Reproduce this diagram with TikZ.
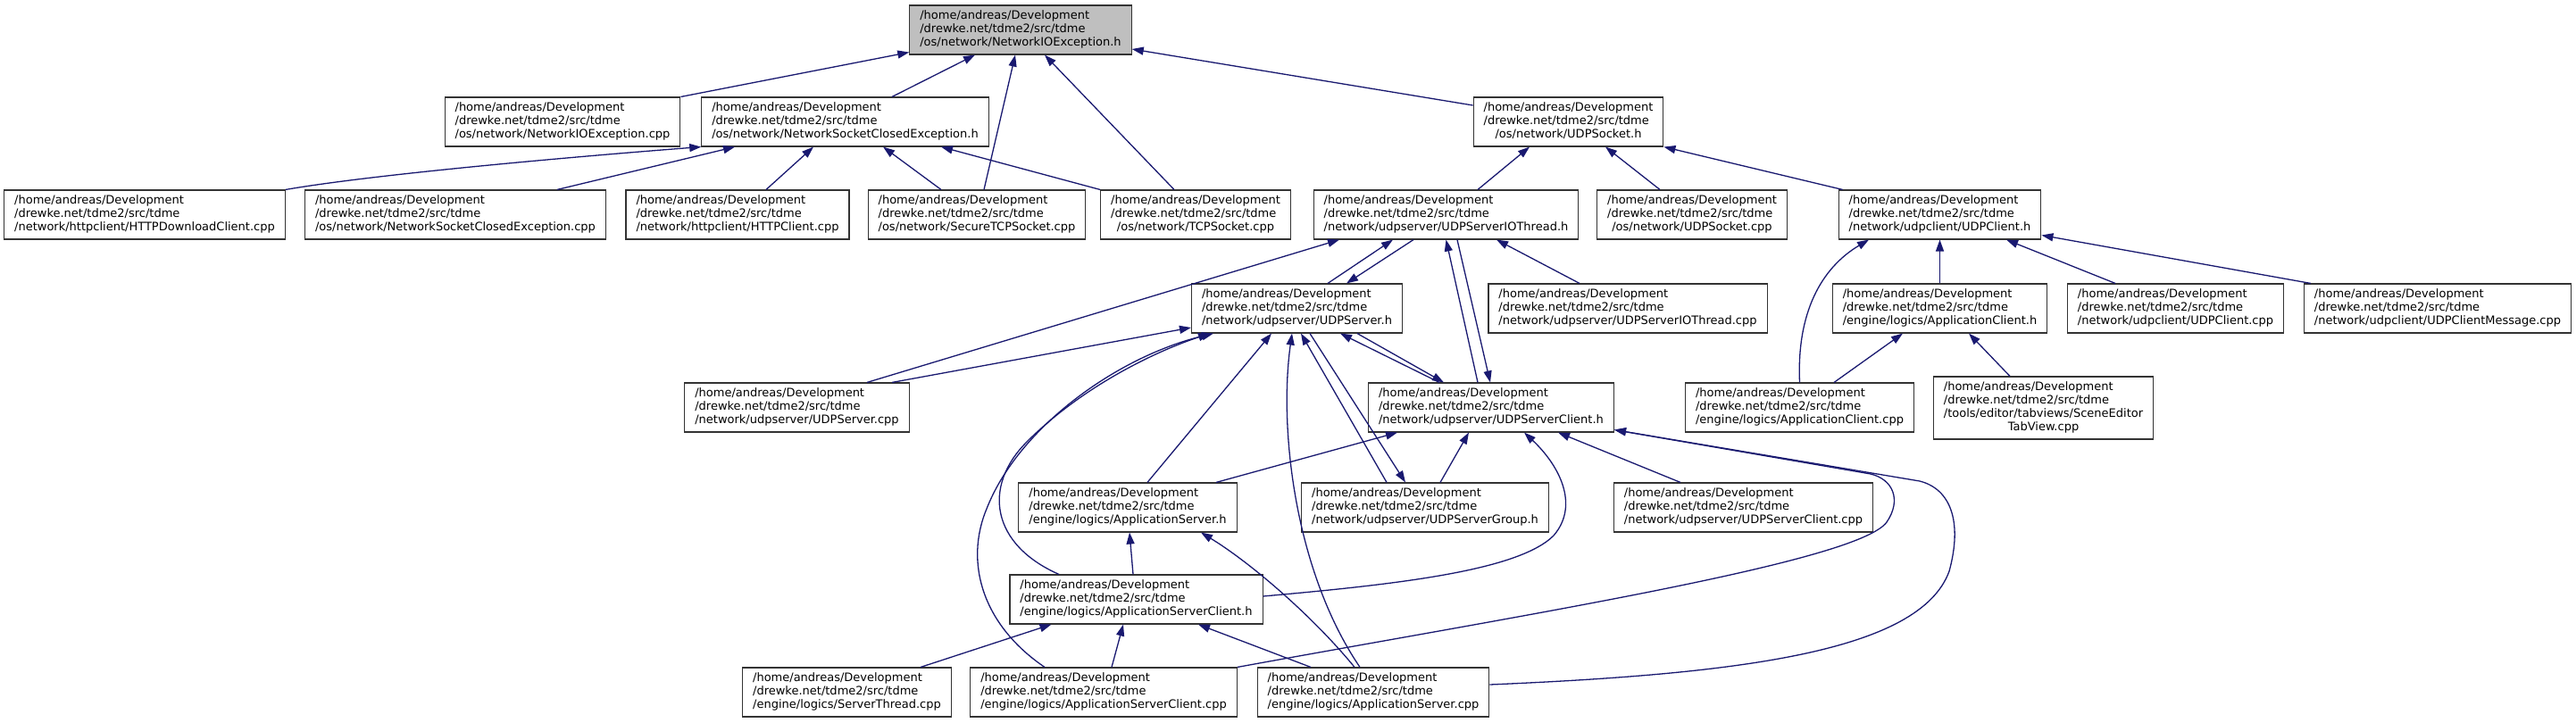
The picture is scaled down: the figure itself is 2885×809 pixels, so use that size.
\documentclass[tikz,border=0pt]{standalone}
\usepackage{fontspec}
\setmainfont{DejaVu Sans}
\usetikzlibrary{arrows.meta}
\definecolor{edgeblue}{HTML}{191970}
\definecolor{rootfill}{HTML}{BFBFBF}
\newcommand{\lbl}[1]{\begin{tabular}{@{}l@{}}/home/andreas/Development\\/drewke.net/tdme2/src/tdme\\\multicolumn{1}{@{}c@{}}{#1}\end{tabular}}
\begin{document}
\begin{tikzpicture}[x=1pt,y=-1pt,
  nd/.style={draw=black!80, line width=1.1pt, fill=white, inner xsep=11.5pt, inner ysep=5pt,
    font=\fontsize{13}{15}\selectfont},
  rootnd/.style={nd, fill=rootfill},
  edge/.style={draw=edgeblue, line width=1.3pt, -{Triangle[length=13pt,width=9pt]}}]
\fill[white] (0,0) rectangle (2885,809);
\useasboundingbox (0,0) rectangle (2885,809);
% row 1
\node[rootnd] (nioh) at (1143,33.5) {\lbl{/os/network/NetworkIOException.h}};
% row 2
\node[nd] (niocpp) at (630,136.5) {\lbl{/os/network/NetworkIOException.cpp}};
\node[nd] (nsceh) at (946.5,136.5) {\lbl{/os/network/NetworkSocketClosedException.h}};
\node[nd] (udpsh) at (1756.5,136.5) {\lbl{/os/network/UDPSocket.h}};
% row 3
\node[nd] (httpdl) at (162,240.5) {\lbl{/network/httpclient/HTTPDownloadClient.cpp}};
\node[nd] (nscecpp) at (510,240.5) {\lbl{/os/network/NetworkSocketClosedException.cpp}};
\node[nd] (httpc) at (826,240.5) {\lbl{/network/httpclient/HTTPClient.cpp}};
\node[nd] (stcp) at (1094,240.5) {\lbl{/os/network/SecureTCPSocket.cpp}};
\node[nd] (tcp) at (1339,240.5) {\lbl{/os/network/TCPSocket.cpp}};
\node[nd] (udpsiot) at (1619.5,240.5) {\lbl{/network/udpserver/UDPServerIOThread.h}};
\node[nd] (udpscpp) at (1895,240.5) {\lbl{/os/network/UDPSocket.cpp}};
\node[nd] (udpch) at (2172.5,240.5) {\lbl{/network/udpclient/UDPClient.h}};
% row 4
\node[nd] (udpsvh) at (1452.5,345.5) {\lbl{/network/udpserver/UDPServer.h}};
\node[nd] (udpsiotcpp) at (1823,345.5) {\lbl{/network/udpserver/UDPServerIOThread.cpp}};
\node[nd] (appch) at (2172.5,345.5) {\lbl{/engine/logics/ApplicationClient.h}};
\node[nd] (udpccpp) at (2436.5,345.5) {\lbl{/network/udpclient/UDPClient.cpp}};
\node[nd] (udpcmsg) at (2730,345.5) {\lbl{/network/udpclient/UDPClientMessage.cpp}};
% row 5
\node[nd] (udpsvcpp) at (892.5,456.5) {\lbl{/network/udpserver/UDPServer.cpp}};
\node[nd] (udpsch) at (1670,456.5) {\lbl{/network/udpserver/UDPServerClient.h}};
\node[nd] (appccpp) at (2015.5,456.5) {\lbl{/engine/logics/ApplicationClient.cpp}};
\node[nd] (sceneed) at (2288.5,457) {\begin{tabular}{@{}l@{}}/home/andreas/Development\\/drewke.net/tdme2/src/tdme\\/tools/editor/tabviews/SceneEditor\\\multicolumn{1}{@{}c@{}}{TabView.cpp}\end{tabular}};
% row 6
\node[nd] (appsh) at (1263,568.5) {\lbl{/engine/logics/ApplicationServer.h}};
\node[nd] (udpsgh) at (1596,568.5) {\lbl{/network/udpserver/UDPServerGroup.h}};
\node[nd] (udpsccpp) at (1952.5,568.5) {\lbl{/network/udpserver/UDPServerClient.cpp}};
% row 7
\node[nd] (appsch) at (1272.5,671.5) {\lbl{/engine/logics/ApplicationServerClient.h}};
% row 8
\node[nd] (stcpp) at (948.5,775.5) {\lbl{/engine/logics/ServerThread.cpp}};
\node[nd] (appsccpp) at (1236,775.5) {\lbl{/engine/logics/ApplicationServerClient.cpp}};
\node[nd] (appscpp) at (1538,775.5) {\lbl{/engine/logics/ApplicationServer.cpp}};
% edges
\draw[edge] (niocpp.north east) -- ([yshift=3pt]nioh.south west);
\draw[edge] ([xshift=52.5pt]nsceh.north) -- ([xshift=-51pt]nioh.south);
\draw[edge] ([xshift=8pt]stcp.north) -- ([xshift=-6pt]nioh.south);
\draw[edge] ([xshift=-24pt]tcp.north) -- ([xshift=27pt]nioh.south);
\draw[edge] ([yshift=18.5pt]udpsh.west) -- ([yshift=-21.5pt]nioh.east);
\draw[edge] (httpdl.north east) .. controls (420,195) and (650,175) .. (nsceh.south west);
\draw[edge] ([xshift=114pt]nscecpp.north) -- ([xshift=-123.5pt]nsceh.south);
\draw[edge] ([xshift=32pt]httpc.north) -- ([xshift=-35.5pt]nsceh.south);
\draw[edge] ([xshift=-40pt]stcp.north) -- ([xshift=42.5pt]nsceh.south);
\draw[edge] (tcp.north west) -- ([xshift=107.5pt]nsceh.south);
\draw[edge] ([xshift=35.5pt]udpsiot.north) -- ([xshift=-43.5pt]udpsh.south);
\draw[edge] ([xshift=-36pt]udpscpp.north) -- ([xshift=41.5pt]udpsh.south);
\draw[edge] ([xshift=5pt]udpch.north west) -- (udpsh.south east);
\draw[edge] ([xshift=78.5pt]udpsvcpp.north) -- ([xshift=-119.5pt]udpsiot.south);
\draw[edge] ([xshift=34.5pt]udpsvh.north) -- ([xshift=-59.5pt]udpsiot.south);
\draw[edge] ([xshift=-36.5pt]udpsiot.south) -- ([xshift=55.5pt]udpsvh.north);
\draw[edge] ([xshift=-15pt]udpsch.north) -- (udpsiot.south);
\draw[edge] ([xshift=12.5pt]udpsiot.south) -- ([xshift=-1pt]udpsch.north);
\draw[edge] ([xshift=-54pt]udpsiotcpp.north) -- ([xshift=56.5pt]udpsiot.south);
\draw[edge] ([xshift=106.5pt]udpsvcpp.north) -- ([yshift=-21.5pt]udpsvh.west);
\draw[edge] ([xshift=-58pt]udpsch.north) -- ([xshift=48.5pt]udpsvh.south);
\draw[edge] ([xshift=67.5pt]udpsvh.south) -- ([xshift=-53pt]udpsch.north);
\draw[edge] ([xshift=-43pt]udpsgh.north) -- ([xshift=4.5pt]udpsvh.south);
\draw[edge] ([xshift=14.5pt]udpsvh.south) -- ([xshift=-22pt]udpsgh.north);
\draw[edge] ([xshift=22pt]appsh.north) -- ([xshift=-28.5pt]udpsvh.south);
\draw[edge] ([xshift=-86.5pt]appsch.north) .. controls (1110,610) and (1100,545) .. (1150,495) .. controls (1210,435) and (1290,395) .. ([xshift=-97.5pt]udpsvh.south);
\draw[edge] ([xshift=-66pt]appsccpp.north) .. controls (1100,700) and (1080,630) .. (1105,570) .. controls (1140,480) and (1250,400) .. ([xshift=-93.5pt]udpsvh.south);
\draw[edge] ([xshift=-15pt]appscpp.north) .. controls (1450,640) and (1432,480) .. ([xshift=-5.5pt]udpsvh.south);
\draw[edge] ([xshift=99pt]appsh.north) -- ([xshift=-105pt]udpsch.south);
\draw[edge] ([xshift=17pt]udpsgh.north) -- ([xshift=-25pt]udpsch.south);
\draw[edge] ([yshift=3.5pt]appsch.east) .. controls (1560,655) and (1700,640) .. (1740,600) .. controls (1770,565) and (1745,520) .. ([xshift=37pt]udpsch.south);
\draw[edge] ([xshift=-70.5pt]udpsccpp.north) -- ([xshift=75pt]udpsch.south);
\draw[edge] (appsccpp.north east) .. controls (1700,690) and (2080,630) .. (2113,585) .. controls (2130,560) and (2120,537) .. (2095,531) -- ([yshift=3pt]udpsch.south east);
\draw[edge] ([yshift=8.5pt]appscpp.east) .. controls (1950,755) and (2150,730) .. (2183,640) .. controls (2198,585) and (2185,548) .. (2150,539) -- ([yshift=3pt]udpsch.south east);
\draw[edge] ([xshift=-3.5pt]appsch.north) -- ([xshift=2pt]appsh.south);
\draw[edge] ([xshift=-21pt]appscpp.north) .. controls (1470,690) and (1400,630) .. ([xshift=82pt]appsh.south);
\draw[edge] ([xshift=82.5pt]stcpp.north) -- ([xshift=-95pt]appsch.south);
\draw[edge] ([xshift=9pt]appsccpp.north) -- ([xshift=-14.5pt]appsch.south);
\draw[edge] ([xshift=-70pt]appscpp.north) -- ([xshift=69.5pt]appsch.south);
\draw[edge] (appccpp.north) .. controls (2012,350) and (2040,300) .. ([xshift=-79.5pt]udpch.south);
\draw[edge] (appch.north) -- (udpch.south);
\draw[edge] ([xshift=-67.5pt]udpccpp.north) -- ([xshift=74.5pt]udpch.south);
\draw[edge] ([xshift=8pt]udpcmsg.north west) -- ([yshift=-23pt]udpch.east);
\draw[edge] ([xshift=38.5pt]appccpp.north) -- ([xshift=-41.5pt]appch.south);
\draw[edge] ([xshift=-37.5pt]sceneed.north) -- ([xshift=32.5pt]appch.south);
\end{tikzpicture}
\end{document}
